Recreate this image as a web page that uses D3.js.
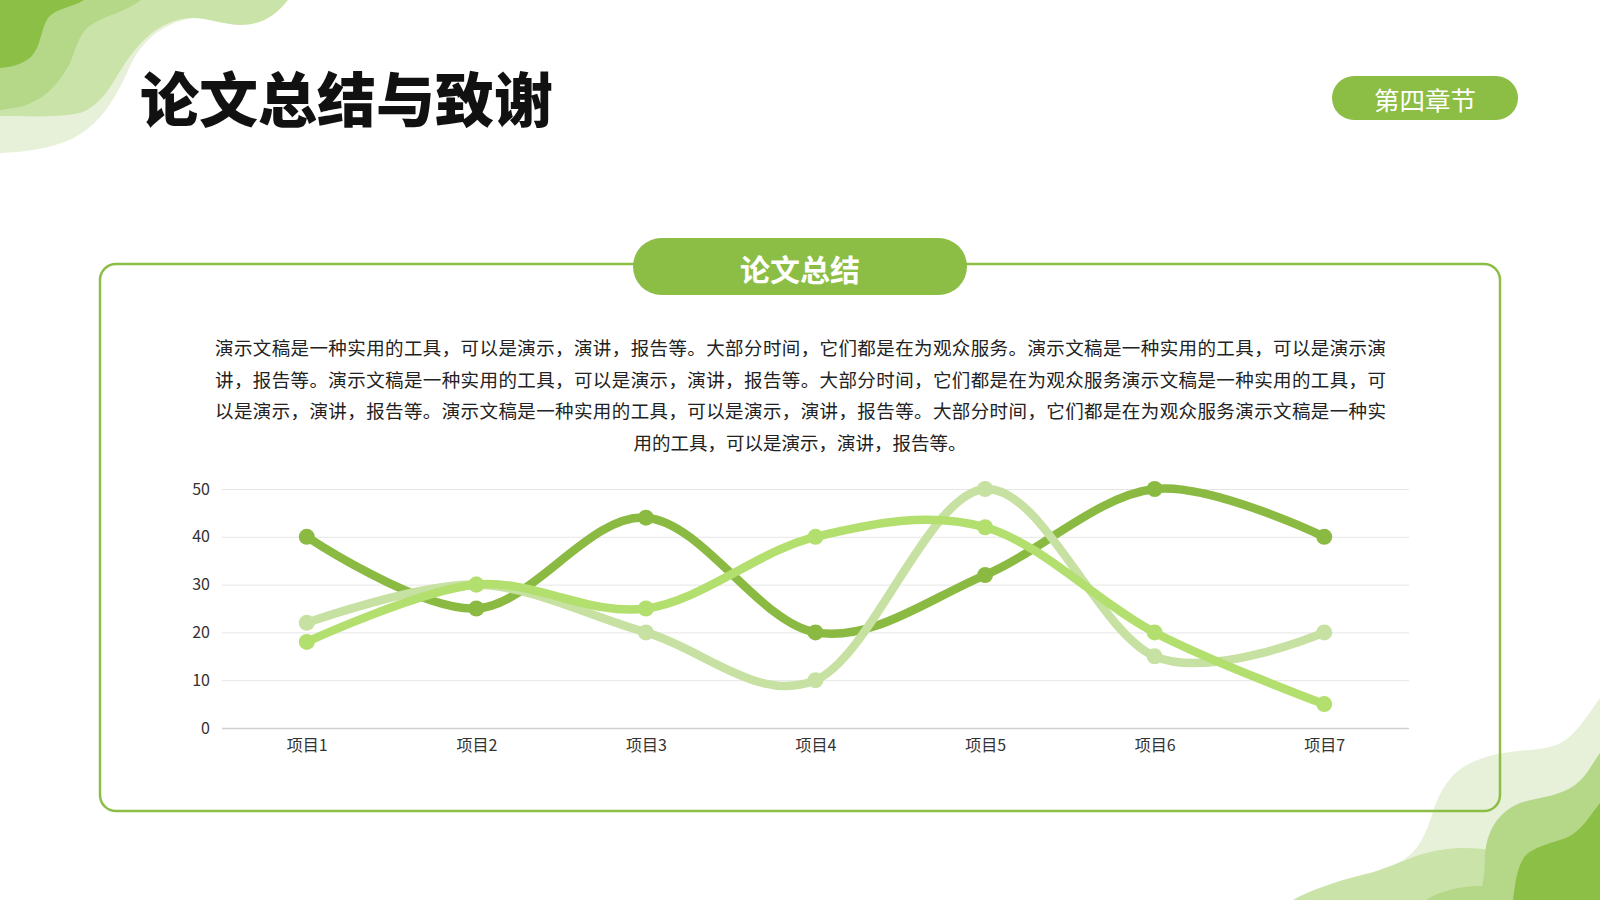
<!DOCTYPE html>
<html lang="zh-CN">
<head>
    <meta charset="UTF-8">
    <meta name="viewport" content="width=device-width, initial-scale=1.0">
    <title>论文总结与致谢</title>
</head>
<script src="https://cdn.jsdelivr.net/npm/d3@7"></script>
<body>
    <div id="chart-space"></div>
</body>

<script>
    // chart values
    var categories = ["项目1", "项目2", "项目3", "项目4", "项目5", "项目6", "项目7"];
    var series1 = [40, 25, 44, 20, 32, 50, 40];
    var series2 = [22, 30, 20, 10, 50, 15, 20];
    var series3 = [18, 30, 25, 40, 42, 20, 5];
    var yTicks = [0, 10, 20, 30, 40, 50];

    var titleText = "论文总结与致谢";
    var badgeText = "第四章节";
    var headerText = "论文总结";
    var paragraphLines = [
        "演示文稿是一种实用的工具，可以是演示，演讲，报告等。大部分时间，它们都是在为观众服务。演示文稿是一种实用的工具，可以是演示演",
        "讲，报告等。演示文稿是一种实用的工具，可以是演示，演讲，报告等。大部分时间，它们都是在为观众服务演示文稿是一种实用的工具，可",
        "以是演示，演讲，报告等。演示文稿是一种实用的工具，可以是演示，演讲，报告等。大部分时间，它们都是在为观众服务演示文稿是一种实",
        "用的工具，可以是演示，演讲，报告等。"
    ];

    var width = 1600;
    var height = 900;
    var green = "#8cbd45";
    var seriesColors = ["#8aba42", "#c6e1a2", "#b2df6e"];
    var font = "'Noto Sans CJK SC', 'Noto Sans', sans-serif";

    var svg = d3.select("#chart-space")
                .append("svg")
                .attr("width", width)
                .attr("height", height)
                .style("font-family", font);

    svg.append("rect").attr("width", width).attr("height", height).attr("fill", "#ffffff");

    // wavy corner decorations
    var topLeft = [
        {fill: "#e7f1da", d: "M0,0 L232,0 C225,10 214,15 198,17 C168,21 145,36 131,64 C116,98 101,124 72,139 C46,150 22,152 0,153 Z"},
        {fill: "#c9e3a9", d: "M0,0 L288,0 C276,15 262,25 241,25 C220,25 203,15 182,19 C154,25 139,44 126,62 C111,84 104,104 80,113 C55,118 25,116 0,116 Z"},
        {fill: "#b4d788", d: "M0,0 L141,0 C126,12 106,15 91,25 C76,35 76,55 66,70 C56,86 44,100 20,107 L0,110 Z"},
        {fill: "#8cbf45", d: "M0,0 L84,0 C71,8 56,8 48,18 C40,30 42,45 31,57 C21,65 11,67 0,68 Z"}
    ];
    var bottomRight = [
        {fill: "#e7f1da", d: "M1600,900 L1330,900 C1345,885 1370,872 1395,864 C1418,855 1425,835 1432,815 C1438,795 1448,775 1467,765 C1485,755 1505,752 1530,750 C1550,748 1560,745 1568,738 C1580,728 1590,712 1600,698 Z"},
        {fill: "#c9e3a9", d: "M1600,900 L1293,900 C1310,890 1340,880 1370,873 C1395,867 1410,855 1440,850 C1460,847 1475,848 1490,850 L1600,850 Z"},
        {fill: "#b4d788", d: "M1600,900 L1426,900 C1442,890 1462,886 1482,886 C1486,872 1484,858 1486,846 C1490,825 1502,810 1520,803 C1540,797 1560,796 1575,785 C1588,775 1593,762 1600,753 Z"},
        {fill: "#8cbf45", d: "M1600,900 L1513,900 C1515,885 1517,866 1525,856 C1535,846 1552,843 1566,838 C1582,831 1590,815 1600,803 Z"}
    ];
    svg.selectAll("path.deco-tl").data(topLeft).join("path")
        .attr("class", "deco-tl").attr("d", function(d){return d.d}).attr("fill", function(d){return d.fill});
    svg.selectAll("path.deco-br").data(bottomRight).join("path")
        .attr("class", "deco-br").attr("d", function(d){return d.d}).attr("fill", function(d){return d.fill});

    // title and chapter badge
    svg.append("text")
        .attr("x", 140).attr("y", 96)
        .attr("dominant-baseline", "central")
        .attr("font-size", 59).attr("font-weight", 900)
        .attr("fill", "#111111")
        .text(titleText);

    svg.append("rect")
        .attr("x", 1332).attr("y", 76).attr("width", 186).attr("height", 44)
        .attr("rx", 22).attr("fill", green);
    svg.append("text")
        .attr("x", 1425).attr("y", 98)
        .attr("text-anchor", "middle").attr("dominant-baseline", "central")
        .attr("font-size", 25.5).attr("fill", "#ffffff")
        .text(badgeText);

    // content frame with header pill
    svg.append("rect")
        .attr("x", 100).attr("y", 264).attr("width", 1400).attr("height", 547)
        .attr("rx", 16).attr("fill", "none")
        .attr("stroke", green).attr("stroke-width", 2.5);
    svg.append("rect")
        .attr("x", 633).attr("y", 238).attr("width", 334).attr("height", 57)
        .attr("rx", 28.5).attr("fill", green);
    svg.append("text")
        .attr("x", 800).attr("y", 268)
        .attr("text-anchor", "middle").attr("dominant-baseline", "central")
        .attr("font-size", 30).attr("font-weight", 700).attr("fill", "#ffffff")
        .text(headerText);

    // paragraph, justified lines + centered last line
    svg.selectAll("text.para").data(paragraphLines).join("text")
        .attr("class", "para")
        .attr("x", function(d, i){return i < 3 ? 215 : 800})
        .attr("y", function(d, i){return 347 + i * 31.5})
        .attr("text-anchor", function(d, i){return i < 3 ? "start" : "middle"})
        .attr("dominant-baseline", "central")
        .attr("font-size", 18.5).attr("fill", "#222222")
        .each(function(d, i){
            if (i < 3) d3.select(this).attr("textLength", 1171).attr("lengthAdjust", "spacing");
        })
        .text(function(d){return d});

    // line chart
    var xScale = d3.scalePoint()
                    .domain(categories)
                    .range([222, 1409])
                    .padding(0.5);

    var yScale = d3.scaleLinear()
                    .domain([0, 50])
                    .range([728, 489]);

    var grid = svg.append("g")
        .attr("transform", "translate(222,0)")
        .call(d3.axisLeft(yScale).tickValues(yTicks).tickSize(-1187).tickFormat(""));
    grid.select(".domain").remove();
    grid.selectAll(".tick line")
        .attr("stroke", function(d){return d === 0 ? "#cfcfcf" : "#e6e6e6"})
        .attr("stroke-width", function(d){return d === 0 ? 1.5 : 1});

    var yAxis = svg.append("g")
        .attr("transform", "translate(210,0)")
        .call(d3.axisLeft(yScale).tickValues(yTicks).tickSize(0).tickPadding(0));
    yAxis.select(".domain").remove();
    yAxis.selectAll("text")
        .attr("font-family", font).attr("font-size", 16).attr("fill", "#333333");

    var xAxis = svg.append("g")
        .attr("transform", "translate(0,728)")
        .call(d3.axisBottom(xScale).tickSize(0).tickPadding(12));
    xAxis.select(".domain").remove();
    xAxis.selectAll("text")
        .attr("font-family", font).attr("font-size", 16).attr("fill", "#333333");

    var line = d3.line()
                .x(function(d, i){return xScale(categories[i])})
                .y(function(d){return yScale(d)})
                .curve(d3.curveCatmullRom.alpha(0));

    var allSeries = [series1, series2, series3];
    allSeries.forEach(function(values, s){
        var g = svg.append("g");
        g.append("path")
            .datum(values)
            .attr("d", line)
            .attr("fill", "none")
            .attr("stroke", seriesColors[s])
            .attr("stroke-width", 8.5)
            .attr("stroke-linecap", "round");
        g.selectAll("circle")
            .data(values)
            .join("circle")
            .attr("cx", function(d, i){return xScale(categories[i])})
            .attr("cy", function(d){return yScale(d)})
            .attr("r", 8)
            .attr("fill", seriesColors[s]);
    });
</script>

<style>
    body{ margin: 0; }
    svg{ display: block; }
</style>
</html>
